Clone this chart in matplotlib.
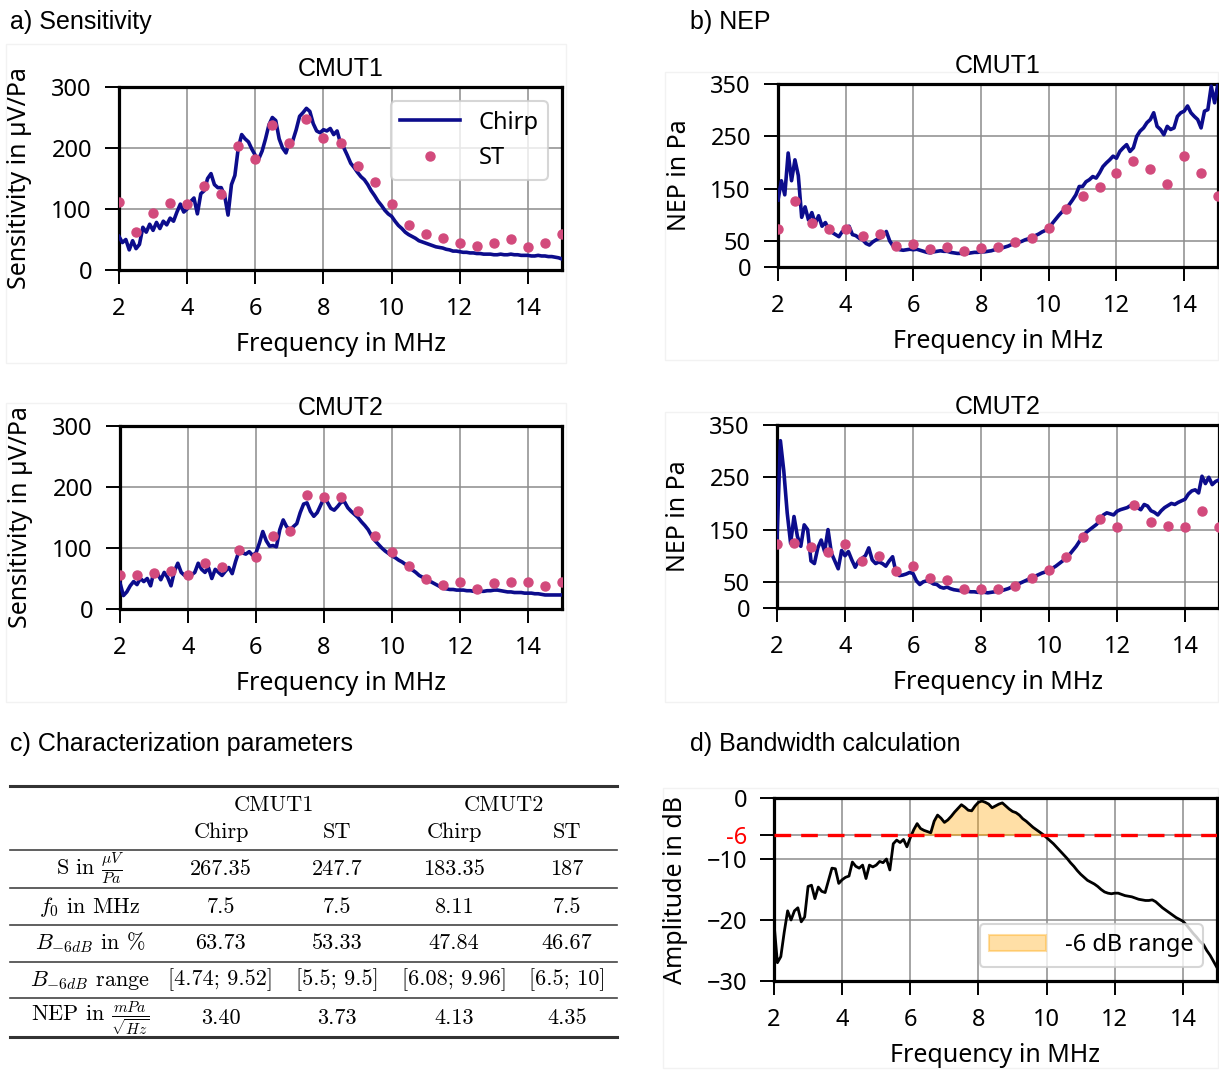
import numpy as np
import matplotlib
matplotlib.use("Agg")
import matplotlib.pyplot as plt
from matplotlib.patches import Rectangle

plt.rcParams['mathtext.fontset'] = 'cm'
plt.rcParams['font.family'] = ['Noto Sans', 'DejaVu Sans']

# frequency grids
freq = np.round(np.arange(2.0, 15.001, 0.1), 1)
freq_st = np.arange(2.0, 15.01, 0.5)

# a) sensitivity in uV/Pa
sens1_chirp = [55, 45, 50, 33, 48, 35, 42, 70, 62, 75,
               65, 78, 68, 80, 74, 85, 80, 95, 108, 95,
               100, 112, 118, 92, 125, 130, 150, 158, 140, 135,
               135, 122, 90, 140, 155, 200, 222, 215, 210, 198,
               188, 182, 195, 215, 238, 250, 245, 215, 200, 192,
               210, 212, 230, 252, 258, 265, 260, 240, 228, 225,
               230, 228, 232, 222, 228, 208, 200, 188, 175, 168,
               160, 153, 148, 140, 130, 122, 113, 106, 98, 92,
               88, 80, 73, 68, 62, 58, 55, 52, 48, 46,
               44, 42, 40, 38, 37, 36, 34, 33, 31, 31,
               30, 29, 29, 28, 28, 27, 27, 26, 26, 26,
               25, 25, 26, 25, 25, 26, 25, 25, 24, 24,
               24, 23, 23, 24, 23, 23, 22, 22, 21, 20, 18]
sens1_st = [112, 63, 93, 110, 109, 137, 125, 204, 182, 237, 209, 247, 217, 209,
            171, 145, 109, 73, 59, 52, 44, 39, 44, 50, 37, 45, 59]

sens2_chirp = [43, 22, 28, 38, 45, 40, 50, 45, 50, 38,
               62, 58, 48, 60, 52, 38, 62, 75, 60, 55,
               52, 56, 60, 75, 65, 60, 68, 50, 65, 60,
               55, 62, 68, 58, 78, 95, 92, 90, 94, 88,
               92, 108, 127, 112, 103, 104, 102, 130, 146, 135,
               130, 135, 140, 158, 172, 174, 160, 152, 158, 170,
               182, 175, 165, 162, 168, 175, 176, 166, 160, 155,
               150, 143, 137, 130, 120, 112, 106, 100, 95, 91,
               87, 84, 80, 77, 73, 68, 64, 60, 55, 52,
               49, 46, 43, 40, 37, 34, 33, 32, 32, 31,
               31, 31, 30, 30, 29, 29, 29, 29, 30, 30,
               31, 31, 30, 29, 28, 28, 27, 27, 27, 26,
               26, 26, 25, 25, 24, 23, 23, 23, 23, 23, 23]
sens2_st = [56, 55, 59, 63, 56, 75, 69, 97, 86, 120, 128, 187, 183, 183,
            160, 120, 94, 71, 50, 40, 44, 33, 42, 44, 44, 37, 44]

# b) NEP in Pa
nep1_chirp = [128, 165, 138, 218, 165, 205, 175, 95, 115, 90,
              104, 83, 98, 78, 85, 72, 66, 62, 58, 68,
              70, 78, 62, 60, 55, 52, 45, 42, 48, 52,
              55, 60, 68, 50, 40, 35, 33, 32, 33, 34,
              33, 34, 32, 30, 28, 27, 29, 30, 31, 30,
              30, 28, 27, 26, 26, 25, 26, 27, 28, 28,
              29, 29, 30, 31, 33, 35, 36, 38, 40, 43,
              45, 47, 49, 52, 54, 57, 60, 63, 67, 70,
              74, 83, 91, 99, 106, 112, 119, 128, 138, 154,
              154, 163, 167, 173, 170, 180, 192, 199, 205, 212,
              208, 221, 228, 234, 221, 228, 250, 260, 266, 276,
              282, 295, 269, 263, 253, 269, 263, 266, 288, 295,
              298, 308, 295, 288, 282, 266, 298, 301, 346, 314, 352]
nep1_st = [72, 127, 85, 72, 72, 59, 64, 40, 44, 34, 38, 31, 37, 38,
           47, 56, 75, 110, 135, 153, 179, 202, 187, 158, 213, 179, 135]

nep2_chirp = [130, 320, 262, 182, 124, 175, 137, 118, 159, 150,
              90, 85, 115, 130, 108, 150, 105, 90, 75, 110,
              100, 108, 92, 78, 90, 95, 100, 115, 92, 85,
              88, 85, 80, 90, 98, 68, 62, 63, 65, 68,
              66, 52, 45, 50, 52, 50, 46, 45, 40, 38,
              40, 37, 35, 34, 33, 32, 32, 31, 31, 30,
              30, 30, 29, 30, 31, 32, 33, 35, 37, 40,
              43, 46, 49, 52, 55, 58, 61, 64, 67, 69,
              72, 76, 80, 85, 90, 96, 102, 110, 118, 128,
              138, 145, 150, 155, 160, 168, 178, 182, 180, 178,
              185, 188, 190, 192, 196, 200, 192, 188, 198, 195,
              186, 183, 178, 186, 192, 196, 200, 198, 202, 205,
              208, 218, 224, 226, 220, 252, 238, 250, 236, 242, 245]
nep2_st = [122, 125, 117, 108, 122, 90, 100, 70, 80, 57, 53, 37, 37, 37,
           43, 57, 72, 97, 135, 170, 154, 197, 164, 157, 154, 186, 154]

# d) normalised amplitude in dB (CMUT1 chirp)
amp_db = [-20.5, -27.0, -26.0, -22.0, -18.5, -20.0, -18.5, -18.0, -20.3, -19.5,
          -14.5, -14.3, -16.5, -14.6, -15.3, -15.5, -13.5, -11.5, -11.6, -14.0,
          -13.4, -13.0, -12.8, -10.5, -11.2, -11.5, -11.0, -13.2, -11.0, -11.3,
          -11.0, -10.4, -10.6, -10.0, -11.8, -7.5, -6.9, -7.3, -6.8, -8.0,
          -6.5, -5.2, -4.2, -5.0, -5.3, -5.5, -5.7, -3.8, -2.8, -3.3,
          -4.0, -3.6, -3.0, -2.3, -1.7, -1.1, -1.5, -2.0, -2.1, -1.3,
          -0.7, -0.5, -0.7, -1.0, -1.6, -1.3, -1.0, -0.8, -1.3, -1.8,
          -2.2, -2.4, -2.8, -3.4, -3.8, -4.3, -4.8, -5.2, -5.6, -6.0,
          -6.5, -7.0, -7.5, -8.1, -8.7, -9.3, -9.9, -10.6, -11.2, -11.9,
          -12.5, -13.0, -13.5, -13.8, -14.1, -14.5, -15.0, -15.4, -15.6, -15.7,
          -15.6, -15.6, -15.8, -16.0, -16.1, -16.2, -16.4, -16.6, -16.7, -16.8,
          -16.8, -16.7, -17.0, -17.5, -18.0, -18.4, -18.8, -19.2, -19.6, -19.9,
          -20.2, -20.8, -21.5, -22.2, -22.8, -23.5, -24.0, -25.0, -25.8, -26.8, -27.8]

# c) table
col_groups = ["CMUT1", "CMUT2"]
col_methods = ["Chirp", "ST", "Chirp", "ST"]
row_labels = [r"S in $\frac{\mu V}{Pa}$", r"$f_0$ in MHz", r"$B_{-6dB}$ in %",
              r"$B_{-6dB}$ range", r"NEP in $\frac{mPa}{\sqrt{Hz}}$"]
table_vals = [["267.35", "247.7", "183.35", "187"],
              ["7.5", "7.5", "8.11", "7.5"],
              ["63.73", "53.33", "47.84", "46.67"],
              ["[4.74; 9.52]", "[5.5; 9.5]", "[6.08; 9.96]", "[6.5; 10]"],
              ["3.40", "3.73", "4.13", "4.35"]]

chirp_col = '#0c0c8c'
st_col = '#d24a7c'
W, H = 1219, 1070
fig = plt.figure(figsize=(W / 100, H / 100), dpi=100)

def px_axes(l, t, r, b):
    return fig.add_axes([l / W, 1 - b / H, (r - l) / W, (b - t) / H])

# background pixel axes for labels, boxes, table
bg = fig.add_axes([0, 0, 1, 1])
bg.set_xlim(0, W)
bg.set_ylim(H, 0)
bg.axis('off')
for (l, t, r, b) in [(6, 44, 566, 363), (6, 403, 566, 702), (665, 72, 1218, 360),
                     (665, 412, 1218, 702), (663, 788, 1218, 1068)]:
    bg.add_patch(Rectangle((l, t), r - l, b - t, fill=False, ec='#f2f2f2', lw=1))

title_font = dict(family='Liberation Sans', fontsize=18)
bg.text(10, 22, "a) Sensitivity", va='center', ha='left', **title_font)
bg.text(690, 22, "b) NEP", va='center', ha='left', **title_font)
bg.text(10, 744, "c) Characterization parameters", va='center', ha='left', **title_font)
bg.text(690, 744, "d) Bandwidth calculation", va='center', ha='left', **title_font)


def style(ax):
    ax.set_xlim(2, 15)
    ax.set_xticks([2, 4, 6, 8, 10, 12, 14])
    ax.grid(True, color='#8c8c8c', lw=1.1)
    ax.set_axisbelow(True)
    for s in ax.spines.values():
        s.set_linewidth(2.3)
        s.set_color('black')
    ax.tick_params(length=10, width=1.4, pad=9.5, labelsize=17, direction='out')
    ax.set_xlabel("Frequency in MHz", fontsize=18)
    ax.xaxis.set_label_coords(0.5, -0.34)


sens_axes = [px_axes(119, 87, 562, 270), px_axes(120, 426, 562, 609)]
for ax, ch, st, name in zip(sens_axes, [sens1_chirp, sens2_chirp], [sens1_st, sens2_st], ["CMUT1", "CMUT2"]):
    ax.plot(freq, ch, color=chirp_col, lw=2.6, label="Chirp", zorder=3)
    ax.plot(freq_st, st, 'o', color=st_col, ms=6.5, label="ST", zorder=4)
    style(ax)
    ax.set_ylim(0, 300)
    ax.set_yticks([0, 100, 200, 300])
    ax.set_ylabel("Sensitivity in µV/Pa", fontsize=18)
    ax.yaxis.set_label_coords(-0.196, 0.5)
    ax.set_title(name, pad=8, **title_font)
leg = sens_axes[0].legend(loc='upper right', fontsize=17, handlelength=2.5, borderaxespad=0.6,
                          framealpha=0.8, edgecolor='#cccccc', fancybox=True)
leg.get_frame().set_linewidth(1.5)

nep_axes = [px_axes(778, 84, 1218, 267), px_axes(777, 425, 1219, 608)]
for ax, ch, st, name in zip(nep_axes, [nep1_chirp, nep2_chirp], [nep1_st, nep2_st], ["CMUT1", "CMUT2"]):
    ax.plot(freq, ch, color=chirp_col, lw=2.6, zorder=3)
    ax.plot(freq_st, st, 'o', color=st_col, ms=6.5, zorder=4)
    style(ax)
    ax.set_ylim(0, 350)
    ax.set_yticks([0, 50, 150, 250, 350])
    ax.set_ylabel("NEP in Pa", fontsize=18)
    ax.yaxis.set_label_coords(-0.195, 0.5)
    ax.set_title(name, pad=8, **title_font)

# d) bandwidth
axd = px_axes(774, 798, 1217, 981)
amp = np.array(amp_db)
axd.plot(freq, amp, color='black', lw=2.0, zorder=3)
axd.fill_between(freq, amp, -6, where=amp >= -6, interpolate=True, color='orange',
                 alpha=0.35, lw=1.5, label="-6 dB range", zorder=2)
axd.axhline(-6, color='red', ls=(0, (5, 3)), lw=2.4, zorder=4)
style(axd)
axd.set_ylim(-30, 0)
axd.set_yticks([-30, -20, -10, -6, 0])
axd.set_yticklabels(["\u221230", "\u221220", "\u221210", "-6", "0"])
axd.get_yticklabels()[3].set_color('red')
axd.set_ylabel("Amplitude in dB", fontsize=18)
axd.yaxis.set_label_coords(-0.194, 0.5)
legd = axd.legend(loc='lower right', fontsize=17, handlelength=2.4, borderaxespad=0.6,
                  framealpha=0.8, edgecolor='#cccccc')
legd.get_frame().set_linewidth(1.5)

# c) table drawn in pixel coordinates
tab_font = dict(family='cmr10', fontsize=16, ha='center', va='center')
bg.plot([10, 617], [786, 786], color='#333333', lw=2.2)
for yy in [850, 888, 925, 962, 998]:
    bg.plot([10, 617], [yy, yy], color='#444444', lw=1.2)
bg.plot([10, 617], [1037, 1037], color='#333333', lw=2.2)
for name, x in zip(col_groups, [274, 504]):
    bg.text(x, 805, name, **tab_font)
col_x = [221, 337, 454, 567]
for name, x in zip(col_methods, col_x):
    bg.text(x, 832, name, **tab_font)
row_y = [869, 907, 943, 980, 1018]
for lab, vals, y in zip(row_labels, table_vals, row_y):
    bg.text(90, y, lab, **tab_font)
    for v, x in zip(vals, col_x):
        bg.text(x, y, v, **tab_font)

fig.savefig("out.png", dpi=100)
